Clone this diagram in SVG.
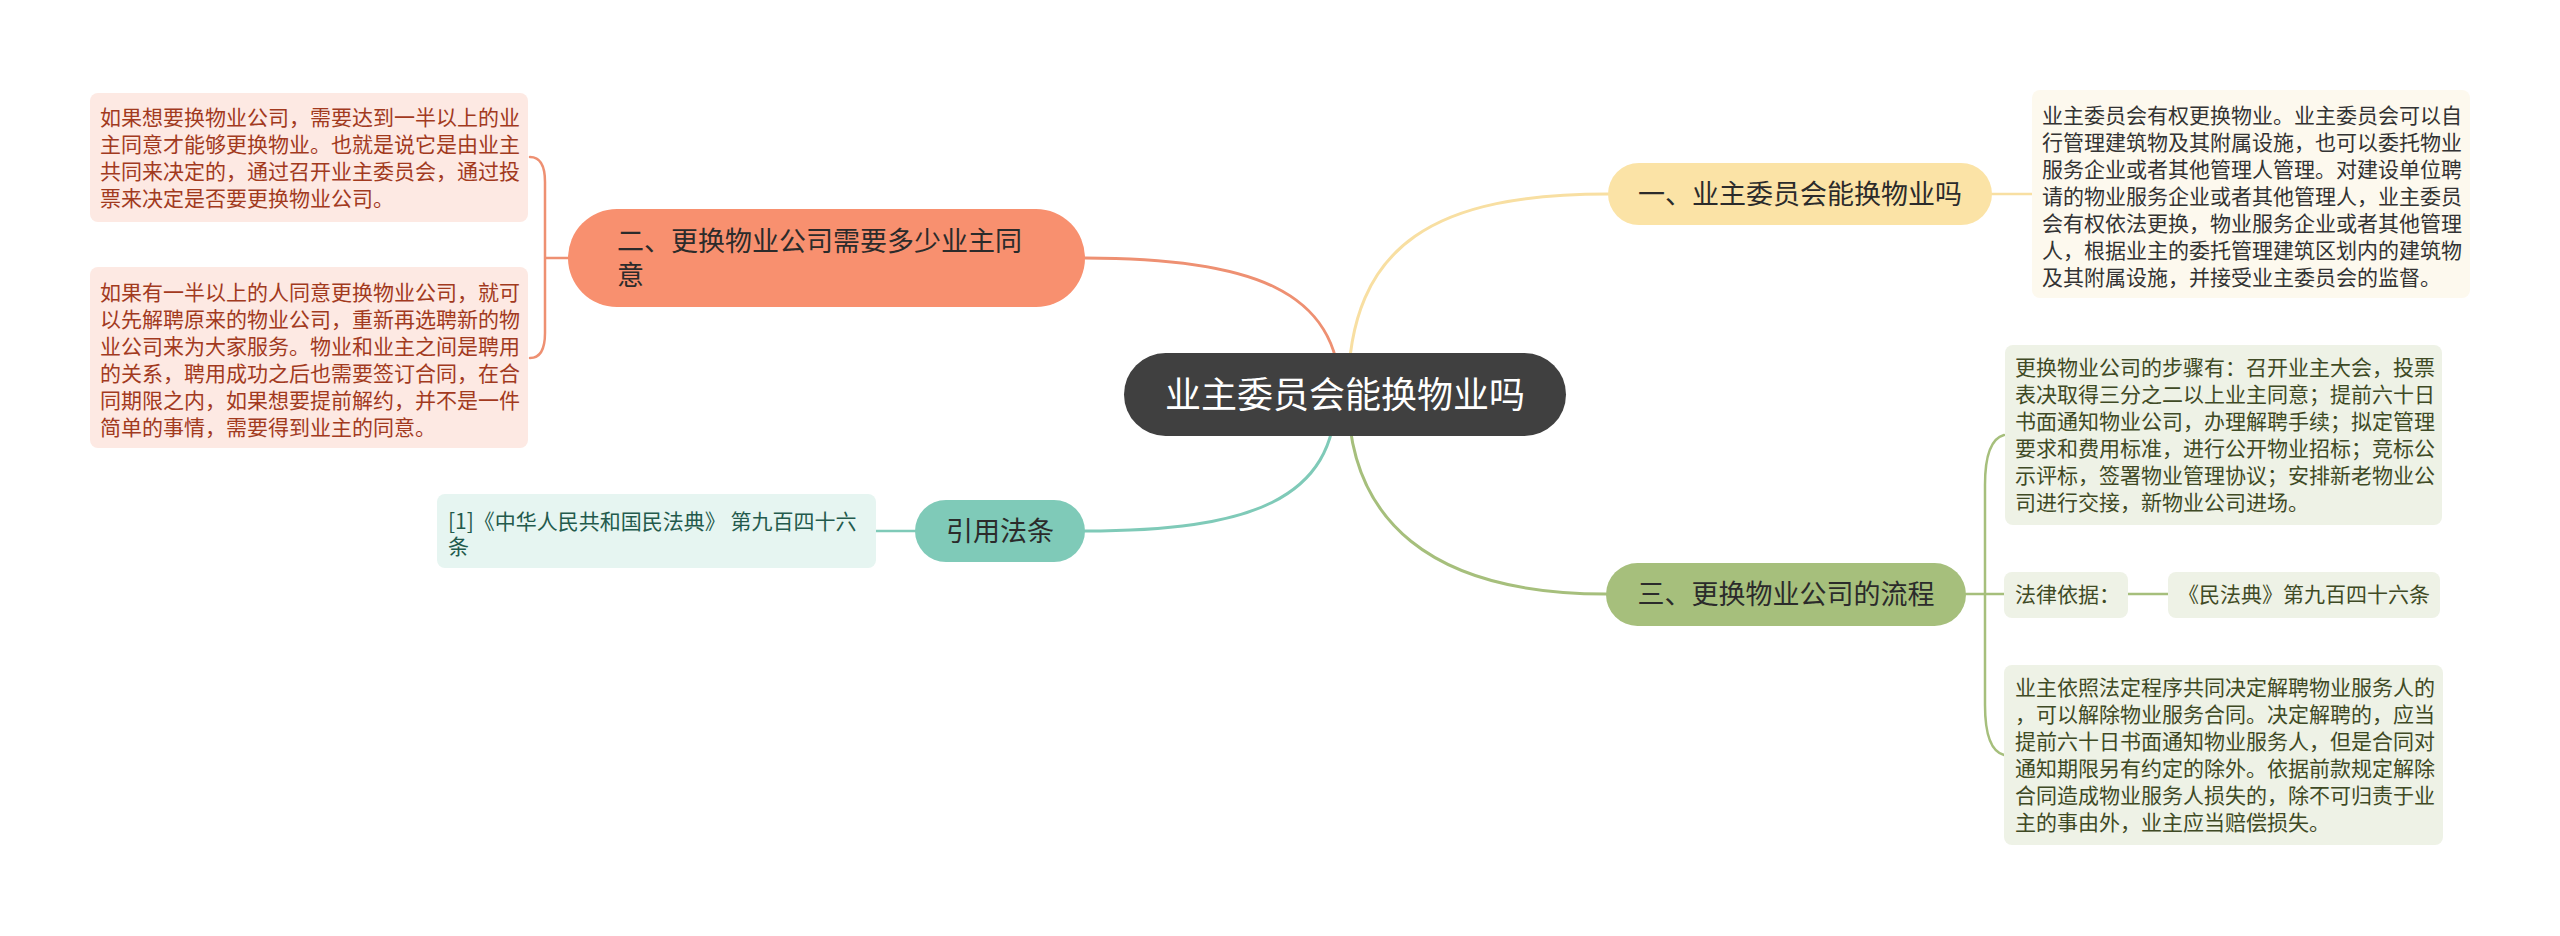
<svg xmlns="http://www.w3.org/2000/svg" width="2560" height="936" viewBox="0 0 2560 936">
<style>
text{font-family:"Noto Sans CJK SC","Microsoft YaHei",sans-serif;}
.c{fill:none;stroke-linecap:round;}
.or{stroke:#EE9072;}
.ye{stroke:#F8DFA2;}
.gr{stroke:#A6BF7C;}
.te{stroke:#7FCAB8;}
.w3{stroke-width:3;}
.w2{stroke-width:2.5;}
.desc{font-size:21px;}
.t1{font-size:27px;fill:#2b2b2b;}
</style>
<rect width="2560" height="936" fill="#ffffff"/>
<g id="connectors">
<path class="c or w3" d="M1085 258 C1250 258 1340 290 1340 394"/>
<path class="c ye w3" d="M1608 194 C1440 194 1348 240 1348 394"/>
<path class="c te w3" d="M1085 531 C1250 531 1336 500 1336 394"/>
<path class="c gr w3" d="M1606 594 C1430 594 1348 520 1348 394"/>
<path class="c or w2" d="M530 157 Q545 157 545 182 L545 333 Q545 358 530 358 M545 258 L568 258"/>
<path class="c ye w2" d="M1992 194 L2032 194"/>
<path class="c te w2" d="M876 531 L915 531"/>
<path class="c gr w2" d="M2004 435 Q1985 440 1985 485 L1985 705 Q1985 750 2004 755 M1966 594 L2004 594 M2128 594 L2168 594"/>
</g>
<g id="center">
<rect x="1124" y="353" width="442" height="83" rx="41.5" fill="#404040"/>
<text x="1345" y="408" font-size="36" fill="#ffffff" text-anchor="middle">业主委员会能换物业吗</text>
</g>
<g id="node-1">
<rect x="1608" y="163" width="384" height="62" rx="31" fill="#FBE3A6"/>
<text class="t1" x="1800" y="204" text-anchor="middle">一、业主委员会能换物业吗</text>
</g>
<g id="node-1-desc">
<rect x="2032" y="90" width="438" height="208" rx="8" fill="#FDF9EE"/>
<text class="desc" fill="#333333">
<tspan x="2042" y="123">业主委员会有权更换物业。业主委员会可以自</tspan>
<tspan x="2042" y="150">行管理建筑物及其附属设施，也可以委托物业</tspan>
<tspan x="2042" y="177">服务企业或者其他管理人管理。对建设单位聘</tspan>
<tspan x="2042" y="204">请的物业服务企业或者其他管理人，业主委员</tspan>
<tspan x="2042" y="231">会有权依法更换，物业服务企业或者其他管理</tspan>
<tspan x="2042" y="258">人，根据业主的委托管理建筑区划内的建筑物</tspan>
<tspan x="2042" y="285">及其附属设施，并接受业主委员会的监督。</tspan>
</text>
</g>
<g id="node-2">
<rect x="568" y="209" width="517" height="98" rx="49" fill="#F8906F"/>
<text class="t1" x="617" y="251">二、更换物业公司需要多少业主同</text>
<text class="t1" x="617" y="285">意</text>
</g>
<g id="node-2-desc-1">
<rect x="90" y="93" width="438" height="129" rx="8" fill="#FDE9E3"/>
<text class="desc" fill="#A23A1E">
<tspan x="100" y="125">如果想要换物业公司，需要达到一半以上的业</tspan>
<tspan x="100" y="152">主同意才能够更换物业。也就是说它是由业主</tspan>
<tspan x="100" y="179">共同来决定的，通过召开业主委员会，通过投</tspan>
<tspan x="100" y="206">票来决定是否要更换物业公司。</tspan>
</text>
</g>
<g id="node-2-desc-2">
<rect x="90" y="267" width="438" height="181" rx="8" fill="#FDE9E3"/>
<text class="desc" fill="#A23A1E">
<tspan x="100" y="300">如果有一半以上的人同意更换物业公司，就可</tspan>
<tspan x="100" y="327">以先解聘原来的物业公司，重新再选聘新的物</tspan>
<tspan x="100" y="354">业公司来为大家服务。物业和业主之间是聘用</tspan>
<tspan x="100" y="381">的关系，聘用成功之后也需要签订合同，在合</tspan>
<tspan x="100" y="408">同期限之内，如果想要提前解约，并不是一件</tspan>
<tspan x="100" y="435">简单的事情，需要得到业主的同意。</tspan>
</text>
</g>
<g id="node-3">
<rect x="1606" y="563" width="360" height="63" rx="31.5" fill="#A6BF7C"/>
<text class="t1" x="1786" y="604" text-anchor="middle">三、更换物业公司的流程</text>
</g>
<g id="node-3-desc-1">
<rect x="2005" y="345" width="437" height="180" rx="8" fill="#EEF2E6"/>
<text class="desc" fill="#3F4A25">
<tspan x="2015" y="375">更换物业公司的步骤有：召开业主大会，投票</tspan>
<tspan x="2015" y="402">表决取得三分之二以上业主同意；提前六十日</tspan>
<tspan x="2015" y="429">书面通知物业公司，办理解聘手续；拟定管理</tspan>
<tspan x="2015" y="456">要求和费用标准，进行公开物业招标；竞标公</tspan>
<tspan x="2015" y="483">示评标，签署物业管理协议；安排新老物业公</tspan>
<tspan x="2015" y="510">司进行交接，新物业公司进场。</tspan>
</text>
</g>
<g id="node-3-basis">
<rect x="2004" y="572" width="124" height="46" rx="8" fill="#EEF2E6"/>
<text class="desc" x="2015" y="602" fill="#3F4A25">法律依据：</text>
</g>
<g id="node-3-basis-law">
<rect x="2168" y="572" width="272" height="46" rx="8" fill="#EEF2E6"/>
<text class="desc" x="2430" y="602" fill="#3F4A25" text-anchor="end">《民法典》第九百四十六条</text>
</g>
<g id="node-3-desc-2">
<rect x="2004" y="665" width="439" height="180" rx="8" fill="#EEF2E6"/>
<text class="desc" fill="#3F4A25">
<tspan x="2015" y="695">业主依照法定程序共同决定解聘物业服务人的</tspan>
<tspan x="2015" y="722">，可以解除物业服务合同。决定解聘的，应当</tspan>
<tspan x="2015" y="749">提前六十日书面通知物业服务人，但是合同对</tspan>
<tspan x="2015" y="776">通知期限另有约定的除外。依据前款规定解除</tspan>
<tspan x="2015" y="803">合同造成物业服务人损失的，除不可归责于业</tspan>
<tspan x="2015" y="830">主的事由外，业主应当赔偿损失。</tspan>
</text>
</g>
<g id="node-4">
<rect x="915" y="500" width="170" height="62" rx="31" fill="#7FCAB8"/>
<text class="t1" x="1000" y="541" text-anchor="middle">引用法条</text>
</g>
<g id="node-4-ref">
<rect x="437" y="494" width="439" height="74" rx="8" fill="#E6F5F1"/>
<text font-size="21" fill="#235A4C">
<tspan x="448" y="529">[1]《中华人民共和国民法典》 第九百四十六</tspan>
<tspan x="448" y="554">条</tspan>
</text>
</g>
</svg>
